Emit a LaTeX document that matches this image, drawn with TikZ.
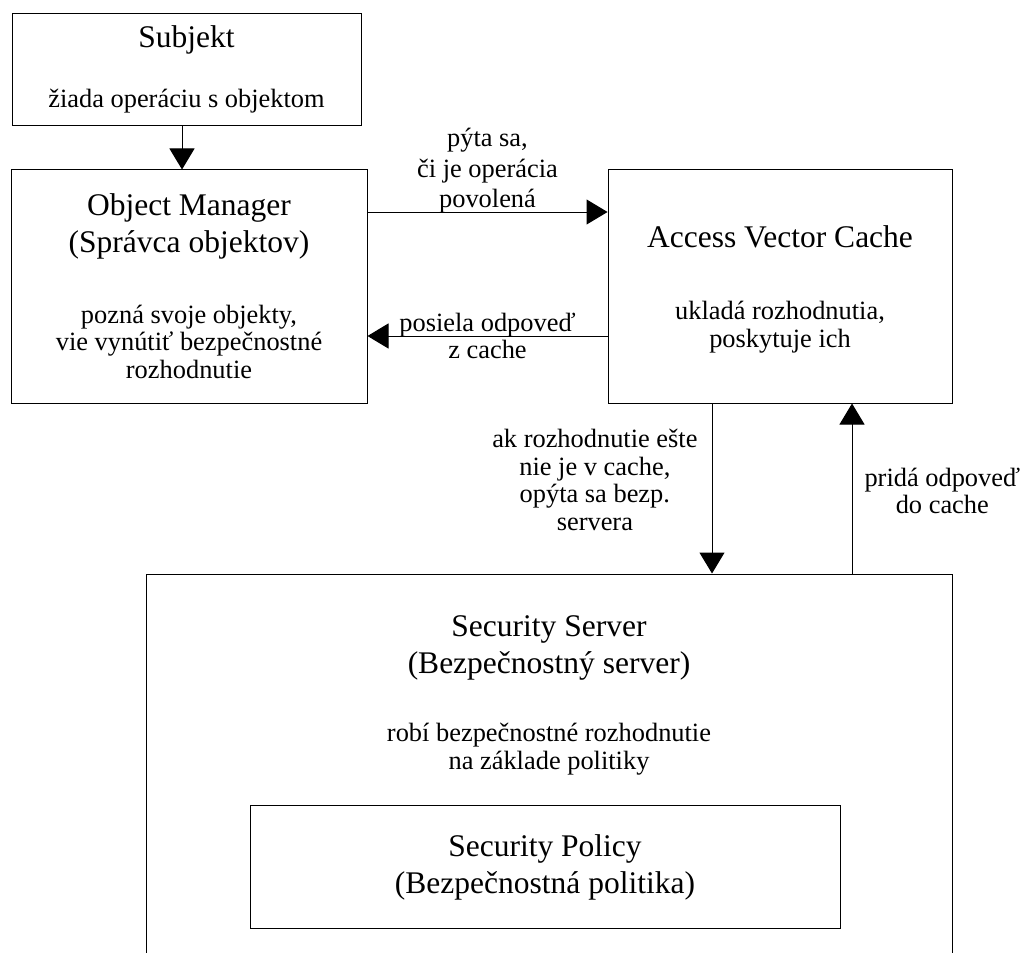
\documentclass[tikz,border=0pt]{standalone}
\usepackage{fontspec}
\setmainfont{Liberation Serif}
\usetikzlibrary{arrows.meta,positioning}
\newcommand{\ttlfont}{\fontsize{31.5}{37}\selectfont}
\newcommand{\txtfont}{\fontsize{26.4}{27.5}\selectfont}

\begin{document}
\begin{tikzpicture}[
  x=1pt, y=-1pt,
  box/.style={rectangle, draw, line width=1pt, inner sep=0pt},
  ttl/.style={font=\ttlfont, align=center, anchor=base, inner sep=0pt},
  txt/.style={font=\txtfont, align=center, anchor=base, inner sep=0pt},
  lbl/.style={font=\txtfont, align=center, inner sep=0pt},
  arr/.style={-{Triangle[length=21pt,width=25pt]}, line width=1pt}
]
\clip (0,0) rectangle (1024,952);
\node[box, minimum width=349pt, minimum height=112pt] (subj) at (186.5,70) {};
\node[box, minimum width=356pt, minimum height=233pt] (om) at (189,286.5) {};
\node[box, minimum width=344pt, minimum height=233pt] (avc) at (780,286.5) {};
\node[box, minimum width=806pt, minimum height=396pt] (ss) at (549,772) {};
\node[box, minimum width=590pt, minimum height=123pt] (pol) at (545,866.5) {};
\node[ttl] (subjT) at (186.5,48) {Subjekt};
\node[txt] (subjD) at (186.5,108) {žiada operáciu s objektom};
\node[ttl] (omT) at (189,252) {Object Manager\\(Správca objektov)};
\node[txt] (omD) at (189,378) {pozná svoje objekty,\\vie vynútiť bezpečnostné\\rozhodnutie};
\node[ttl] (avcT) at (780,247) {Access Vector Cache};
\node[txt] (avcD) at (780,347) {ukladá rozhodnutia,\\poskytuje ich};
\node[ttl] (ssT) at (549,673) {Security Server\\(Bezpečnostný server)};
\node[txt] (ssD) at (549,769) {robí bezpečnostné rozhodnutie\\na základe politiky};
\node[ttl] (polT) at (545,893) {Security Policy\\(Bezpečnostná politika)};
\draw[arr] ([xshift=-4.5pt]subj.south) -- ([xshift=-4.5pt]subj.south |- om.north);
\draw[arr] ([yshift=74.5pt]om.east) -- node[lbl, above=-2pt] (askL) {pýta sa,\\[3pt]či je operácia\\[3pt]povolená} ([yshift=74.5pt]om.east -| avc.west);
\draw[arr] ([yshift=-49.5pt]om.east -| avc.west) -- node[lbl] (replyL) {posiela odpoveď\\z cache} ([yshift=-49.5pt]om.east);
\draw[arr] ([xshift=-68pt]avc.south) -- node[lbl, left=14pt, yshift=8.5pt] (missL) {ak rozhodnutie ešte\\nie je v cache,\\opýta sa bezp.\\servera} ([xshift=-68pt]avc.south |- ss.north);
\draw[arr] ([xshift=72pt]avc.south |- ss.north) -- node[lbl, right=12pt, yshift=-2.5pt] (addL) {pridá odpoveď\\do cache} ([xshift=72pt]avc.south);
\end{tikzpicture}
\end{document}
